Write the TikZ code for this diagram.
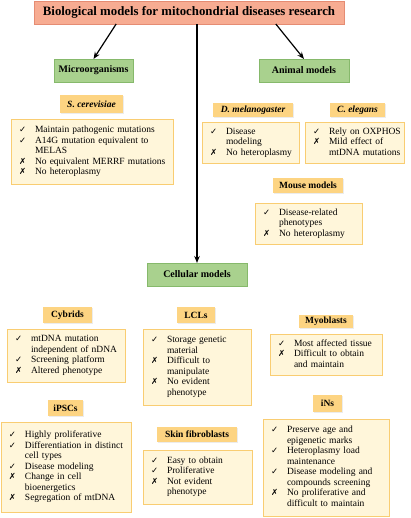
\documentclass[tikz,border=0pt]{standalone}
\usepackage{fontspec}
\setmainfont{Liberation Serif}
\newfontfamily\symf{DejaVu Sans}
\usetikzlibrary{arrows.meta,shadows,calc}
\definecolor{titlefill}{HTML}{F7AC92}
\definecolor{titledraw}{HTML}{E58C73}
\definecolor{grnfill}{HTML}{A9D18E}
\definecolor{grndraw}{HTML}{86B96B}
\definecolor{orgfill}{HTML}{FDD482}
\definecolor{creamfill}{HTML}{FFF6DA}
\definecolor{creamdraw}{HTML}{F9CD72}
\newcommand\ck{{\symf\fontsize{8.5}{8.5}\selectfont ✓}}
\newcommand\xx{{\symf\fontsize{8.5}{8.5}\selectfont ✗}}
\newcommand\lst[1]{\begin{tabular}{@{}p{16pt}@{}l@{}}#1\end{tabular}}
\tikzset{
  box/.style={anchor=north west, inner sep=0pt, outer sep=0pt},
  titlebox/.style={box, fill=titlefill, draw=titledraw, line width=0.8pt, font=\bfseries\fontsize{12.8}{14}\selectfont},
  grnbox/.style={box, fill=grnfill, draw=grndraw, line width=0.8pt, font=\bfseries\fontsize{10}{11}\selectfont},
  lblbox/.style={box, fill=orgfill, drop shadow={opacity=0.15,shadow xshift=0.8pt,shadow yshift=-0.8pt}, font=\bfseries\fontsize{9.5}{11}\selectfont},
  lstbox/.style={box, fill=creamfill, draw=creamdraw, line width=0.9pt, align=left, inner xsep=8pt, font=\fontsize{9.5}{10.5}\selectfont},
  arr/.style={-{Stealth[length=7pt,width=5.5pt]}, line width=1.2pt, black},
}
\begin{document}
\begin{tikzpicture}[x=1pt,y=-1pt]
\useasboundingbox (0,0) rectangle (410,518);
% title
\node[titlebox, minimum width=310pt, minimum height=23pt] (title) at (34,1) {Biological models for mitochondrial diseases research};
% green
\node[grnbox, minimum width=79pt, minimum height=23pt] (micro) at (54,59) {Microorganisms};
\node[grnbox, minimum width=90pt, minimum height=23pt] (animal) at (259,59) {Animal models};
\node[grnbox, minimum width=100pt, minimum height=23pt] (cell) at (147,263) {Cellular models};
% connectors
\draw[arr] ($(title.south west)!0.265!(title.south east)$) -- (micro.north);
\draw[arr] ($(title.south west)!0.78!(title.south east)$) -- (animal.north);
\draw[arr] (title.south -| cell.north) -- (cell.north);
% labels
\node[lblbox, minimum width=63pt, minimum height=18pt] (scerl) at (60,95) {\itshape S. cerevisiae};
\node[lblbox, minimum width=80pt, minimum height=14pt] (dmell) at (213,103) {\itshape D. melanogaster};
\node[lblbox, minimum width=55pt, minimum height=14pt] (celel) at (330,103) {\itshape C. elegans};
\node[lblbox, minimum width=70pt, minimum height=15pt] (mousel) at (273,178) {Mouse models};
\node[lblbox, minimum width=49pt, minimum height=16pt] (cybl) at (43,307) {Cybrids};
\node[lblbox, minimum width=38pt, minimum height=16pt] (lcll) at (177,307) {LCLs};
\node[lblbox, minimum width=54pt, minimum height=13pt] (myol) at (299,315) {Myoblasts};
\node[lblbox, minimum width=35pt, minimum height=16pt] (ipscl) at (48,400) {iPSCs};
\node[lblbox, minimum width=80pt, minimum height=15pt] (skinl) at (157,427) {Skin fibroblasts};
\node[lblbox, minimum width=29pt, minimum height=17pt] (insl) at (313,395) {iNs};
% lists
\node[lstbox, text width=146pt, minimum height=65pt] (scer) at (11,119) {\lst{%
\ck & Maintain pathogenic mutations\\
\ck & A14G mutation equivalent to\\
    & MELAS\\
\xx & No equivalent MERRF mutations\\
\xx & No heteroplasmy}};
\node[lstbox, text width=81pt, minimum height=41pt] (dmel) at (202,122) {\lst{%
\ck & Disease\\
    & modeling\\
\xx & No heteroplasmy}};
\node[lstbox, text width=83pt, minimum height=41pt] (cele) at (305,122) {\lst{%
\ck & Rely on OXPHOS\\
\xx & Mild effect of\\
    & mtDNA mutations}};
\node[lstbox, text width=91pt, minimum height=41pt] (mouse) at (255,203) {\lst{%
\ck & Disease-related\\
    & phenotypes\\
\xx & No heteroplasmy}};
\node[lstbox, text width=102pt, minimum height=53pt] (cyb) at (7,329) {\lst{%
\ck & mtDNA mutation\\
    & independent of nDNA\\
\ck & Screening platform\\
\xx & Altered phenotype}};
\node[lstbox, text width=92pt, minimum height=76pt] (lcl) at (143,329) {\lst{%
\ck & Storage genetic\\
    & material\\
\xx & Difficult to\\
    & manipulate\\
\xx & No evident\\
    & phenotype}};
\node[lstbox, text width=96pt, minimum height=41pt] (myo) at (270,334) {\lst{%
\ck & Most affected tissue\\
\xx & Difficult to obtain\\
    & and maintain}};
\node[lstbox, text width=114pt, minimum height=90pt] (ipsc) at (1,422) {\lst{%
\ck & Highly proliferative\\
\ck & Differentiation in distinct\\
    & cell types\\
\ck & Disease modeling\\
\xx & Change in cell\\
    & bioenergetics\\
\xx & Segregation of mtDNA}};
\node[lstbox, text width=93pt, minimum height=54pt] (skin) at (143,450) {\lst{%
\ck & Easy to obtain\\
\ck & Proliferative\\
\xx & Not evident\\
    & phenotype}};
\node[lstbox, text width=110pt, minimum height=97pt] (ins) at (263,419) {\lst{%
\ck & Preserve age and\\
    & epigenetic marks\\
\ck & Heteroplasmy load\\
    & maintenance\\
\ck & Disease modeling and\\
    & compounds screening\\
\xx & No proliferative and\\
    & difficult to maintain}};
\end{tikzpicture}
\end{document}
